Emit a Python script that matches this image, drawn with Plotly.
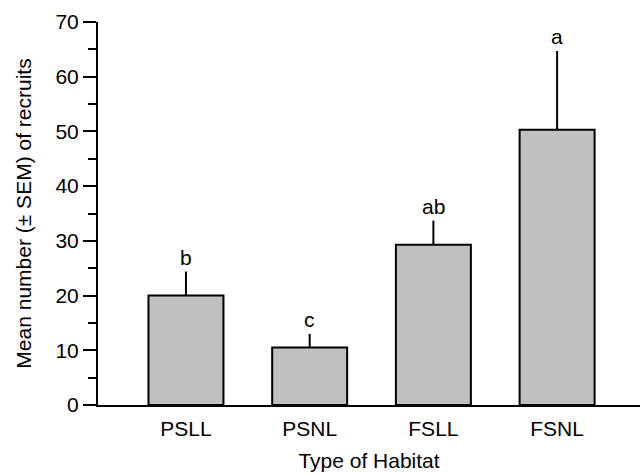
import plotly.graph_objects as go

habitats = ["PSLL", "PSNL", "FSLL", "FSNL"]
mean_recruits = [20.0, 10.5, 29.3, 50.3]
sem_recruits = [4.4, 2.5, 4.4, 14.4]
group_letters = ["b", "c", "ab", "a"]

FONT = "Liberation Sans, Arial, sans-serif"
FS = 21

fig = go.Figure()
fig.add_trace(go.Bar(
    x=habitats,
    y=mean_recruits,
    width=0.606,
    marker=dict(color="#c0c0c0", line=dict(color="black", width=2)),
    error_y=dict(type="data", symmetric=False, array=sem_recruits,
                 arrayminus=[0] * len(sem_recruits),
                 width=0, thickness=2, color="black"),
))

for h, m, s, lab in zip(habitats, mean_recruits, sem_recruits, group_letters):
    fig.add_annotation(x=h, y=m + s, text=lab, showarrow=False,
                       yanchor="bottom", yshift=1,
                       font=dict(family=FONT, size=FS, color="black"))

fig.update_layout(
    width=642, height=474,
    margin=dict(l=98, r=2, t=22, b=69),
    paper_bgcolor="white", plot_bgcolor="white",
    showlegend=False,
    font=dict(family=FONT, size=FS, color="black"),
)
fig.update_xaxes(
    range=[-0.711, 3.67],
    showline=True, linecolor="black", linewidth=2,
    ticks="", showgrid=False, zeroline=False,
    ticklabelstandoff=4,
    tickfont=dict(family=FONT, size=FS, color="black"),
    title=dict(text="Type of Habitat", standoff=14,
               font=dict(family=FONT, size=FS, color="black")),
)
fig.update_yaxes(
    range=[0, 70],
    dtick=10, tick0=0,
    showline=True, linecolor="black", linewidth=2,
    ticks="outside", ticklen=13, tickwidth=2, tickcolor="black",
    minor=dict(dtick=5, ticks="outside", ticklen=8, tickwidth=2, tickcolor="black"),
    showgrid=False, zeroline=False,
    tickfont=dict(family=FONT, size=FS, color="black"),
    title=dict(text="Mean number (± SEM) of recruits", standoff=18,
               font=dict(family=FONT, size=FS, color="black")),
)

fig.write_html("out.html", config={"displayModeBar": False},
               post_script="document.body.style.margin='0px';")
